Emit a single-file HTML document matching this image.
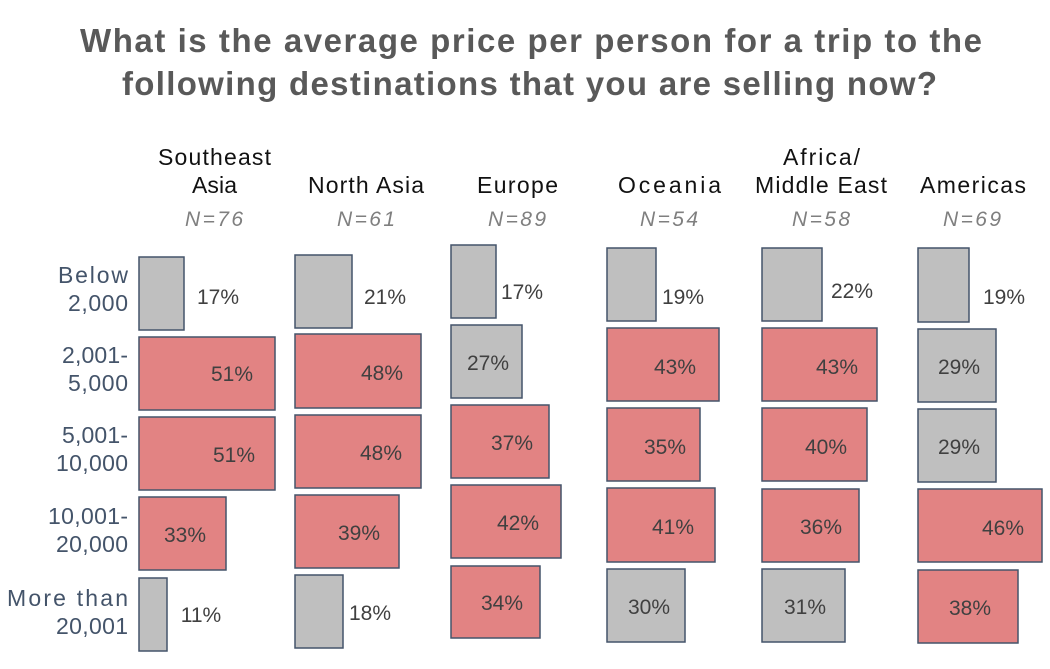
<!DOCTYPE html>
<html><head><meta charset="utf-8"><style>
html,body{margin:0;padding:0;background:#fff;}
svg{display:block;font-family:"Liberation Sans",sans-serif;}
</style></head><body>
<svg width="1050" height="669" viewBox="0 0 1050 669" xmlns="http://www.w3.org/2000/svg">
<g font-weight="bold" font-size="33" fill="#595959">
<text x="80" y="52" textLength="902" lengthAdjust="spacing">What is the average price per person for a trip to the</text>
<text x="122" y="95" textLength="815" lengthAdjust="spacing">following destinations that you are selling now?</text>
</g>
<g font-size="23" fill="#111">
<text x="158" y="165" textLength="113">Southeast</text><text x="192" y="193" textLength="45">Asia</text>
<text x="308" y="193" textLength="116">North Asia</text>
<text x="477" y="193" textLength="81">Europe</text>
<text x="618" y="193" textLength="103">Oceania</text>
<text x="783" y="165" textLength="77">Africa/</text><text x="755" y="193" textLength="132">Middle East</text>
<text x="920" y="193" textLength="106">Americas</text>
</g>
<g font-size="21" fill="#7f7f7f" font-style="italic">
<text x="185" y="226" textLength="58">N=76</text><text x="337" y="226" textLength="58">N=61</text><text x="488" y="226" textLength="58">N=89</text>
<text x="640" y="226" textLength="58">N=54</text><text x="792" y="226" textLength="58">N=58</text><text x="943" y="226" textLength="58">N=69</text>
</g>
<g font-size="23" fill="#44546a">
<text x="58" y="283" textLength="70">Below</text><text x="68" y="311" textLength="60">2,000</text>
<text x="62" y="363" textLength="66">2,001-</text><text x="68" y="391" textLength="60">5,000</text>
<text x="62" y="443" textLength="66">5,001-</text><text x="56" y="471" textLength="72">10,000</text>
<text x="48" y="524" textLength="80">10,001-</text><text x="56" y="552" textLength="72">20,000</text>
<text x="7" y="606" textLength="121">More than</text><text x="56" y="634" textLength="72">20,001</text>
</g>
<g stroke="#44546a" stroke-width="1.5">
<rect x="139" y="257" width="45" height="73" fill="#bfbfbf"/>
<rect x="139" y="337" width="136" height="73" fill="#e28383"/>
<rect x="139" y="417" width="136" height="73" fill="#e28383"/>
<rect x="139" y="497" width="87" height="73" fill="#e28383"/>
<rect x="139" y="578" width="28" height="73" fill="#bfbfbf"/>
<rect x="295" y="255" width="57" height="73" fill="#bfbfbf"/>
<rect x="295" y="334" width="126" height="74" fill="#e28383"/>
<rect x="295" y="415" width="126" height="73" fill="#e28383"/>
<rect x="295" y="495" width="104" height="73" fill="#e28383"/>
<rect x="295" y="575" width="48" height="73" fill="#bfbfbf"/>
<rect x="451" y="245" width="45" height="73" fill="#bfbfbf"/>
<rect x="451" y="325" width="71" height="73" fill="#bfbfbf"/>
<rect x="451" y="405" width="98" height="73" fill="#e28383"/>
<rect x="451" y="485" width="110" height="73" fill="#e28383"/>
<rect x="451" y="566" width="89" height="72" fill="#e28383"/>
<rect x="607" y="248" width="49" height="73" fill="#bfbfbf"/>
<rect x="607" y="328" width="112" height="73" fill="#e28383"/>
<rect x="607" y="408" width="93" height="73" fill="#e28383"/>
<rect x="607" y="488" width="108" height="74" fill="#e28383"/>
<rect x="607" y="569" width="78" height="73" fill="#bfbfbf"/>
<rect x="762" y="248" width="60" height="73" fill="#bfbfbf"/>
<rect x="762" y="328" width="115" height="73" fill="#e28383"/>
<rect x="762" y="408" width="105" height="73" fill="#e28383"/>
<rect x="762" y="489" width="97" height="73" fill="#e28383"/>
<rect x="762" y="569" width="83" height="73" fill="#bfbfbf"/>
<rect x="918" y="248" width="51" height="74" fill="#bfbfbf"/>
<rect x="918" y="329" width="78" height="73" fill="#bfbfbf"/>
<rect x="918" y="409" width="78" height="73" fill="#bfbfbf"/>
<rect x="918" y="489" width="124" height="73" fill="#e28383"/>
<rect x="918" y="570" width="100" height="73" fill="#e28383"/>
</g>
<g font-size="21" fill="#404040" text-anchor="middle">
<text x="218" y="304">17%</text><text x="232" y="381">51%</text><text x="234" y="462">51%</text><text x="185" y="542">33%</text><text x="201" y="622">11%</text>
<text x="385" y="304">21%</text><text x="382" y="380">48%</text><text x="381" y="460">48%</text><text x="359" y="540">39%</text><text x="370" y="620">18%</text>
<text x="522" y="299">17%</text><text x="488" y="370">27%</text><text x="512" y="450">37%</text><text x="518" y="530">42%</text><text x="502" y="610">34%</text>
<text x="683" y="304">19%</text><text x="675" y="374">43%</text><text x="665" y="454">35%</text><text x="673" y="534">41%</text><text x="649" y="614">30%</text>
<text x="852" y="298">22%</text><text x="837" y="374">43%</text><text x="826" y="454">40%</text><text x="821" y="534">36%</text><text x="805" y="614">31%</text>
<text x="1004" y="304">19%</text><text x="959" y="374">29%</text><text x="959" y="454">29%</text><text x="1003" y="535">46%</text><text x="970" y="615">38%</text>
</g>
</svg>
</body></html>
